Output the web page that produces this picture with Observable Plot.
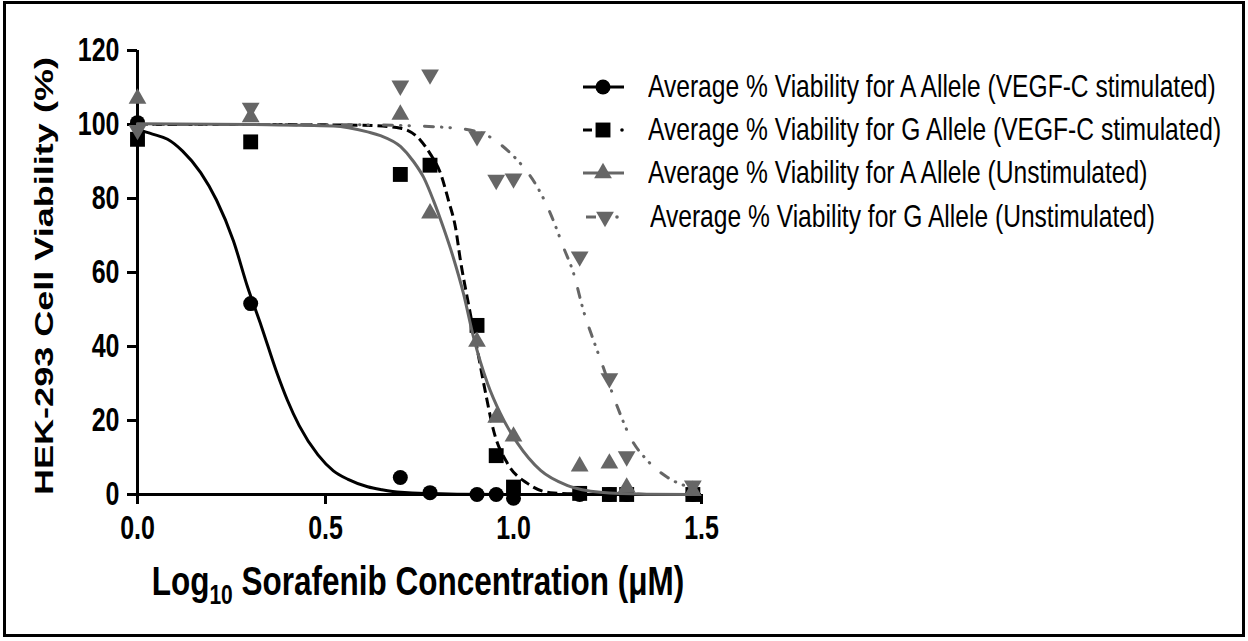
<!DOCTYPE html>
<html>
<head>
<meta charset="utf-8">
<script src="https://cdn.jsdelivr.net/npm/d3@7"></script>
<script src="https://cdn.jsdelivr.net/npm/@observablehq/plot@0.6"></script>
<style>
  html, body { margin: 0; padding: 0; background: #fff; }
  #wrap { position: relative; width: 1248px; height: 641px; overflow: hidden; background: #fff;
          font-family: "Liberation Sans", Arial, Helvetica, sans-serif; color: #000; }
  #frame { position: absolute; left: 3px; top: 1px; width: 1242px; height: 636px;
           box-sizing: border-box; border: 3px solid #000; pointer-events: none; }
  #chart { position: absolute; left: 0; top: 0; }
  .ytitle { position: absolute; left: -206px; top: 258px; width: 500px; height: 36px; line-height: 36px;
            text-align: center; font-weight: bold; font-size: 26.5px; white-space: nowrap;
            transform: rotate(-90deg) scaleX(1.36); transform-origin: 50% 50%; }
  .xtitle { position: absolute; left: 68px; top: 561px; width: 700px; height: 40px; text-align: center;
            font-weight: bold; font-size: 31.5px; white-space: nowrap; line-height: 40px;
            transform: scaleY(1.3); transform-origin: 50% 50%; }
  .xtitle sub { font-size: 21px; vertical-align: -7px; line-height: 0; }
  .legtext { position: absolute; font-size: 24.6px; white-space: nowrap; line-height: 28px; height: 28px;
             transform: scaleY(1.3); transform-origin: 0 50%; }
  #legsvg { position: absolute; left: 570px; top: 60px; }
</style>
</head>
<body>
<div id="wrap">
  <div id="chart"></div>
  <div class="ytitle">HEK-293 Cell Viability (%)</div>
  <div class="xtitle">Log<sub>10</sub> Sorafenib Concentration (μM)</div>
  <div id="legend"></div>
  <div id="frame"></div>
</div>
<script>
// ---- data ----
const concLog = [0, 0.301, 0.699, 0.778, 0.903, 0.954, 1.0, 1.176, 1.255, 1.301, 1.477];
const viabAVegf = [100.5, 51.6, 4.6, 0.5, 0, 0, -1, 0, 0, 0, 0];
const viabGVegf = [96, 95.3, 86.5, 89, 45.7, 10.5, 2, 0.3, 0, 0, 0];
const viabAUnstim = [107, 102, 102.7, 76, 41.3, 20.8, 15.7, 7.6, 8.4, 1.9, 1];
const viabGUnstim = [98.5, 104.5, 110.5, 113.5, 96.8, 85, 85.4, 64.3, 31.4, 10.3, 2.4];

// fitted curves
const fitAVegfX = [0, 0.04, 0.08, 0.12, 0.168, 0.21, 0.255, 0.293, 0.33, 0.37, 0.399, 0.43, 0.48, 0.521, 0.56, 0.612, 0.65, 0.70, 0.85, 1.0, 1.477];
const fitAVegfY = [98.6, 97.4, 96, 92.8, 87, 79.6, 68.6, 56, 45.3, 33.1, 25.4, 18.6, 10.7, 6.4, 4.1, 2.1, 1.3, 0.6, 0.1, 0, 0];
const fitGVegfX = [0, 0.3, 0.6, 0.70, 0.753, 0.779, 0.806, 0.827, 0.846, 0.859, 0.880, 0.904, 0.926, 0.947, 0.984, 1.037, 1.098, 1.2, 1.477];
const fitGVegfY = [100, 100, 99.8, 99, 95.7, 92, 86.8, 79.5, 72, 63.2, 51.6, 39, 27.3, 17.3, 8.4, 3, 0.5, 0.1, 0];
const fitAUnstimX = [0, 0.3, 0.521, 0.612, 0.646, 0.70, 0.734, 0.761, 0.787, 0.814, 0.840, 0.867, 0.894, 0.931, 0.965, 1.011, 1.072, 1.144, 1.231, 1.35, 1.477];
const fitAUnstimY = [100.2, 100, 99.6, 98, 97, 94, 90, 85.7, 79.5, 72, 64, 54.3, 42.4, 30, 21.9, 13.8, 6.5, 2.4, 0.6, 0.1, 0];
const fitGUnstimX = [0, 0.3, 0.6, 0.824, 0.912, 0.984, 1.027, 1.064, 1.098, 1.133, 1.160, 1.186, 1.213, 1.239, 1.277, 1.311, 1.356, 1.410, 1.477];
const fitGUnstimY = [100, 100, 99.9, 99.2, 97.8, 93, 88.4, 83, 76, 66.8, 59.7, 49.7, 41.6, 34.3, 23.5, 15.4, 9.2, 4.6, 1.7];

const xTicks = [0, 0.5, 1.0, 1.5];
const yTicks = [0, 20, 40, 60, 80, 100, 120];
const seriesNames = [
  "Average % Viability for A Allele (VEGF-C stimulated)",
  "Average % Viability for G Allele (VEGF-C stimulated)",
  "Average % Viability for A Allele (Unstimulated)",
  "Average % Viability for G Allele (Unstimulated)"
];

const GRAY = "#666666";
const pts = (ys) => concLog.map((x, i) => ({x, y: ys[i]}));
const fit = (xs, ys) => xs.map((x, i) => ({x, y: ys[i]}));

const plot = Plot.plot({
  width: 760,
  height: 641,
  marginLeft: 137,
  marginRight: 59,
  marginTop: 50,
  marginBottom: 147,
  style: {fontFamily: "'Liberation Sans', Arial, sans-serif", background: "transparent", overflow: "visible"},
  x: {domain: [0, 1.5]},
  y: {domain: [0, 120]},
  marks: [
    Plot.axisX({ticks: xTicks, tickFormat: d3.format(".1f"), tickSize: 10, tickPadding: 11,
      fontSize: 25, fontWeight: "bold", strokeWidth: 3, label: null}),
    Plot.axisY({ticks: yTicks, tickFormat: d3.format("d"), tickSize: 10, tickPadding: 8,
      fontSize: 25, fontWeight: "bold", strokeWidth: 3, label: null}),
    Plot.ruleY([0], {x1: 0, x2: 1.5, stroke: "#000", strokeWidth: 3}),
    Plot.ruleX([0], {y1: 0, y2: 120, stroke: "#000", strokeWidth: 3}),
    // A allele, VEGF-C
    Plot.line(fit(fitAVegfX, fitAVegfY), {x: "x", y: "y", curve: "monotone-x", stroke: "#000", strokeWidth: 3}),
    Plot.dot(pts(viabAVegf), {x: "x", y: "y", symbol: "circle", r: 7.5, fill: "#000"}),
    // G allele, VEGF-C
    Plot.line(fit(fitGVegfX, fitGVegfY), {x: "x", y: "y", curve: "monotone-x", stroke: "#000", strokeWidth: 3,
      strokeDasharray: "10,5", strokeLinecap: "butt"}),
    Plot.dot(pts(viabGVegf), {x: "x", y: "y", symbol: "square", r: 8.4, fill: "#000"}),
    // A allele, unstimulated
    Plot.line(fit(fitAUnstimX, fitAUnstimY), {x: "x", y: "y", curve: "monotone-x", stroke: GRAY, strokeWidth: 3}),
    Plot.dot(pts(viabAUnstim), {x: "x", y: "y", symbol: "triangle", r: 6.6, fill: GRAY}),
    // G allele, unstimulated
    Plot.line(fit(fitGUnstimX, fitGUnstimY), {x: "x", y: "y", curve: "monotone-x", stroke: GRAY, strokeWidth: 3,
      strokeDasharray: "9,8,0.5,8,0.5,15", strokeLinecap: "round"}),
    Plot.dot(pts(viabGUnstim), {x: "x", y: "y", symbol: "triangle", rotate: 180, r: 6.6, fill: GRAY})
  ]
});
document.getElementById("chart").appendChild(plot);

// stretch tick labels vertically, as in the reference
d3.select(plot).selectAll('[aria-label="x-axis tick label"] text, [aria-label="y-axis tick label"] text')
  .each(function () {
    const t = this.getAttribute("transform") || "";
    this.setAttribute("transform", t + " scale(1,1.3)");
  });

// ---- legend ----
const leg = document.getElementById("legend");
const rowY = [87, 130, 173, 217];
const ls = d3.create("svg").attr("id", "legsvg").attr("width", 70).attr("height", 180);
const oy = 60, ox = 570;
// row 1: solid black + circle
ls.append("line").attr("x1", 583 - ox).attr("x2", 624 - ox).attr("y1", rowY[0] - oy).attr("y2", rowY[0] - oy)
  .attr("stroke", "#000").attr("stroke-width", 3);
ls.append("path").attr("d", d3.symbol(d3.symbolCircle, Math.PI * 7.5 * 7.5)())
  .attr("transform", `translate(${603 - ox},${rowY[0] - oy})`).attr("fill", "#000");
// row 2: dash, square, dot
ls.append("line").attr("x1", 583 - ox).attr("x2", 592 - ox).attr("y1", rowY[1] - oy).attr("y2", rowY[1] - oy)
  .attr("stroke", "#000").attr("stroke-width", 3);
ls.append("path").attr("d", d3.symbol(d3.symbolSquare, Math.PI * 8.4 * 8.4)())
  .attr("transform", `translate(${603 - ox},${rowY[1] - oy})`).attr("fill", "#000");
ls.append("circle").attr("cx", 622 - ox).attr("cy", rowY[1] - oy).attr("r", 1.8).attr("fill", "#000");
// row 3: solid gray + triangle
ls.append("line").attr("x1", 583 - ox).attr("x2", 624 - ox).attr("y1", rowY[2] - oy).attr("y2", rowY[2] - oy)
  .attr("stroke", GRAY).attr("stroke-width", 3);
ls.append("path").attr("d", d3.symbol(d3.symbolTriangle, Math.PI * 6.6 * 6.6)())
  .attr("transform", `translate(${603 - ox},${rowY[2] - oy})`).attr("fill", GRAY);
// row 4: dash, down triangle, dot
ls.append("line").attr("x1", 586 - ox).attr("x2", 596 - ox).attr("y1", rowY[3] - oy).attr("y2", rowY[3] - oy)
  .attr("stroke", GRAY).attr("stroke-width", 3);
ls.append("path").attr("d", d3.symbol(d3.symbolTriangle, Math.PI * 6.6 * 6.6)())
  .attr("transform", `translate(${605 - ox},${rowY[3] - oy}) rotate(180)`).attr("fill", GRAY);
ls.append("circle").attr("cx", 617 - ox).attr("cy", rowY[3] - oy).attr("r", 1.8).attr("fill", GRAY);
leg.appendChild(ls.node());

seriesNames.forEach((name, i) => {
  const d = document.createElement("div");
  d.className = "legtext";
  d.style.top = (rowY[i] - 14) + "px";
  d.style.left = (i === 3 ? 650 : 648) + "px";
  d.textContent = name;
  leg.appendChild(d);
});
</script>
</body>
</html>
